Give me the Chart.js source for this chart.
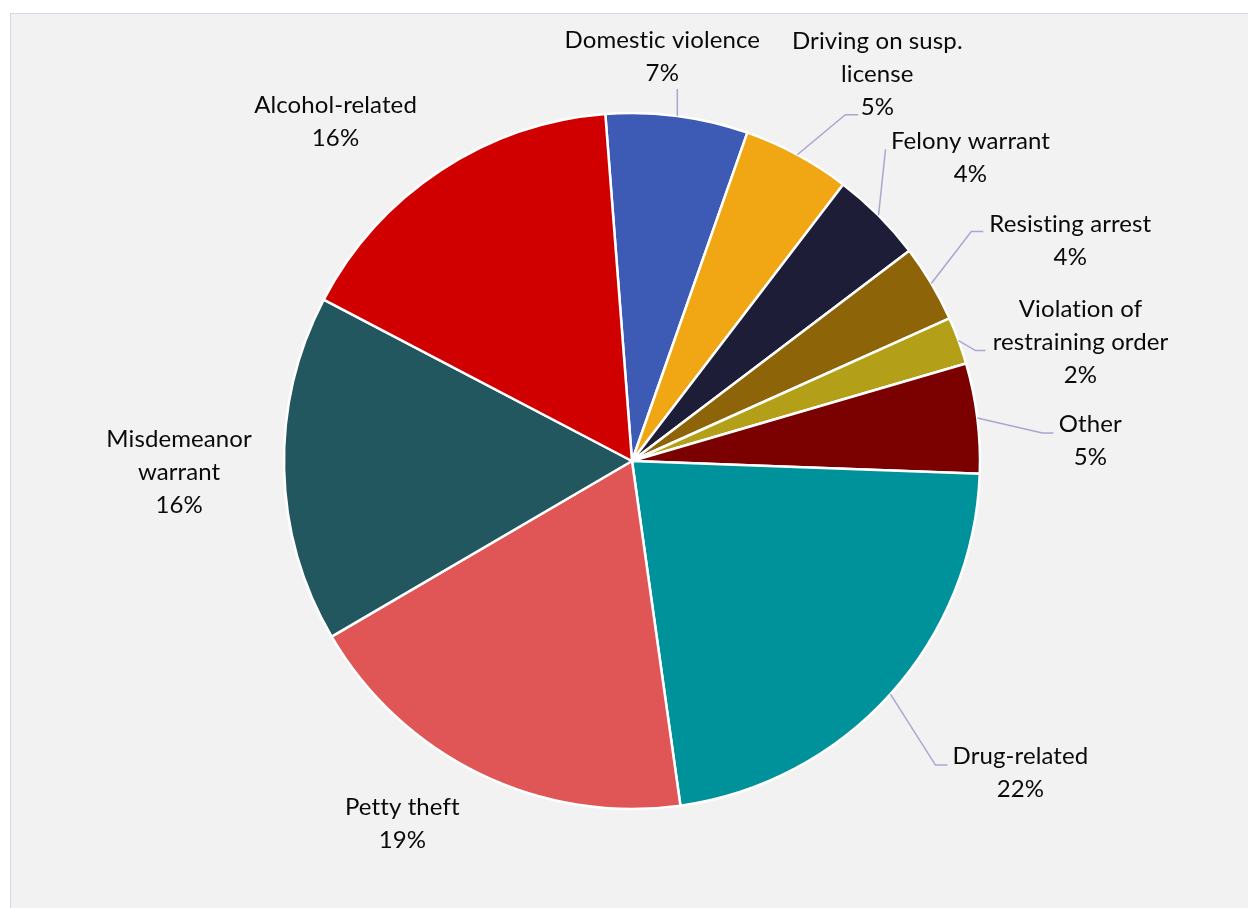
<!DOCTYPE html>
<html>
<head>
<meta charset="utf-8">
<title>Arrests by offense</title>
<script src="https://cdn.jsdelivr.net/npm/chart.js@4/dist/chart.umd.min.js"></script>
<style>
  html, body { margin: 0; padding: 0; background: #ffffff; width: 1248px; height: 908px; overflow: hidden; }
  #frame {
    position: absolute; left: 10px; top: 13px; width: 1260px; height: 920px;
    background: #f2f2f2; border-left: 1.5px solid #d6d6ea; border-top: 1.5px solid #d6d6ea;
  }
  #wrap { position: absolute; left: 0; top: 0; width: 1248px; height: 908px; }
</style>
</head>
<body>
<div id="frame"></div>
<div id="wrap"><canvas id="chart" width="1248" height="908"></canvas></div>
<script>
// Offense categories, clockwise from the top (multi-line names are wrapped as arrays)
const categories = [
  'Domestic violence',
  ['Driving on susp.', 'license'],
  'Felony warrant',
  'Resisting arrest',
  ['Violation of', 'restraining order'],
  'Other',
  'Drug-related',
  'Petty theft',
  ['Misdemeanor', 'warrant'],
  'Alcohol-related'
];

// Share of arrests, percent
const shares = [6.6, 5.0, 4.3, 3.6, 2.2, 5.1, 22.2, 18.8, 16.1, 16.1];

const sliceColors = [
  '#3d5bb5', '#f0a713', '#1d1d38', '#8e6409', '#b3a018',
  '#7b0000', '#00929a', '#e05656', '#22575f', '#d10000'
];

// Label placement relative to each slice's outer mid-point; leader = elbow relative to label centre + horizontal run
const labelLayout = [
  { dx: -15, dy: -59, leader: { ex: 15, ey: 32, run: 0 } },
  { dx: 80,  dy: -81, leader: { ex: -32, ey: 41, run: 13 } },
  { dx: 92,  dy: -58, leader: { ex: -85, ey: -8, run: 0 } },
  { dx: 139, dy: -43, leader: { ex: -99, ey: -9, run: 12 } },
  { dx: 122, dy: 2,   leader: { ex: -105, ey: 8, run: 10 } },
  { dx: 113, dy: 23,  leader: { ex: -48, ey: -8, run: 11 } },
  { dx: 130, dy: 79,  leader: { ex: -85, ey: -8, run: 12 } },
  { dx: -78, dy: 50,  leader: null },
  { dx: -105, dy: 3,  leader: null },
  { dx: -105, dy: -49, leader: null }
];

const LABEL_FONT = '24px Lato, "Open Sans", sans-serif';
const LINE_HEIGHT = 33;

const outsideLabels = {
  id: 'outsideLabels',
  afterDatasetsDraw(chart) {
    const ctx = chart.ctx;
    const meta = chart.getDatasetMeta(0);
    const total = shares.reduce((a, b) => a + b, 0);
    ctx.save();
    meta.data.forEach((arc, i) => {
      const p = arc.getProps(['x', 'y', 'startAngle', 'endAngle', 'outerRadius'], true);
      const mid = (p.startAngle + p.endAngle) / 2;
      const ax = p.x + Math.cos(mid) * p.outerRadius;
      const ay = p.y + Math.sin(mid) * p.outerRadius;
      const L = labelLayout[i];
      const cx = ax + L.dx, cy = ay + L.dy;

      if (L.leader) {
        const ex = cx + L.leader.ex, ey = cy + L.leader.ey;
        ctx.beginPath();
        ctx.strokeStyle = '#a7a7d3';
        ctx.lineWidth = 1.5;
        ctx.moveTo(ax, ay);
        ctx.lineTo(ex, ey);
        if (L.leader.run) ctx.lineTo(ex + L.leader.run, ey);
        ctx.stroke();
      }

      const name = categories[i];
      const lines = (Array.isArray(name) ? name : [name])
        .concat(Math.round(shares[i] / total * 100) + '%');
      ctx.font = LABEL_FONT;
      if ('letterSpacing' in ctx) ctx.letterSpacing = '0.1px';
      ctx.fillStyle = '#0a0a0a';
      ctx.textAlign = 'center';
      ctx.textBaseline = 'middle';
      lines.forEach((t, k) => {
        ctx.fillText(t, cx, cy + (k - (lines.length - 1) / 2) * LINE_HEIGHT);
      });
    });
    ctx.restore();
  }
};

new Chart(document.getElementById('chart'), {
  type: 'pie',
  data: {
    labels: categories,
    datasets: [{
      data: shares,
      backgroundColor: sliceColors,
      borderColor: '#ffffff',
      borderWidth: 2.5
    }]
  },
  options: {
    responsive: false,
    animation: false,
    rotation: -4.4,
    radius: 348,
    layout: { padding: { left: 16, top: 14, right: 0, bottom: 0 } },
    plugins: {
      legend: { display: false },
      tooltip: { enabled: false }
    }
  },
  plugins: [outsideLabels]
});
</script>
</body>
</html>
